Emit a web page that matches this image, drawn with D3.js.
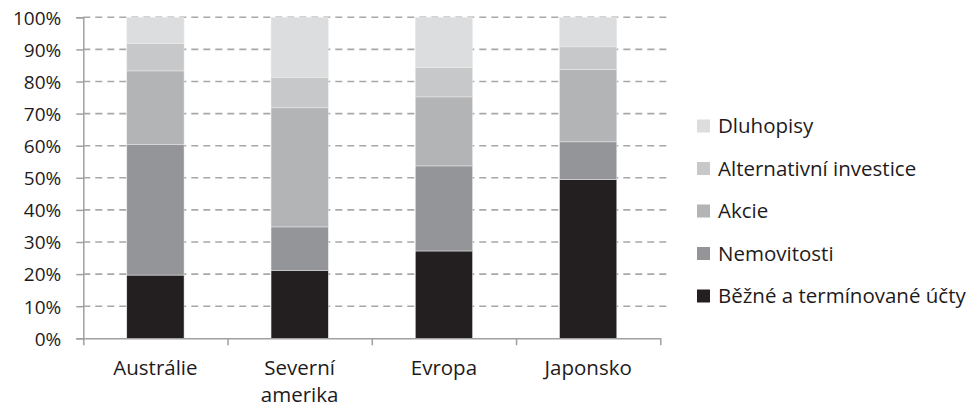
<!DOCTYPE html>
<html>
<head>
<meta charset="utf-8">
<script src="https://cdn.jsdelivr.net/npm/d3@7"></script>
<style>
  html, body { margin: 0; padding: 0; background: #fff; }
  svg { display: block; font-family: "Open Sans", sans-serif; }
</style>
</head>
<body>
<svg id="chart" width="971" height="407"></svg>
<script>
const categories = ["Austrálie", "Severní amerika", "Evropa", "Japonsko"];
const categoryLines = [["Austrálie"], ["Severní", "amerika"], ["Evropa"], ["Japonsko"]];
const seriesNames = ["Běžné a termínované účty", "Nemovitosti", "Akcie", "Alternativní investice", "Dluhopisy"];
const bezne = [19.7, 21.2, 27.2, 49.4];
const nemovitosti = [40.6, 13.5, 26.5, 11.8];
const akcie = [23.0, 37.1, 21.5, 22.5];
const alternativni = [8.5, 9.4, 9.2, 7.1];
const dluhopisy = [8.2, 18.8, 15.6, 9.2];
const yTicks = [0, 10, 20, 30, 40, 50, 60, 70, 80, 90, 100];
const colors = ["#231f20", "#939598", "#b3b4b6", "#c7c8ca", "#dcdddf"];

const seriesValues = [bezne, nemovitosti, akcie, alternativni, dluhopisy];
const table = categories.map((c, i) => {
  const row = { category: c };
  seriesNames.forEach((s, k) => { row[s] = seriesValues[k][i]; });
  return row;
});

const svg = d3.select("#chart");
const plotLeft = 83.3, plotRight = 660.3, plotTop = 17.3, plotBottom = 338.3;
const textColor = "#1e1b1c";

const x = d3.scaleBand().domain(categories).range([plotLeft, plotRight])
  .paddingInner(0.603).paddingOuter(0.3015);
const y = d3.scaleLinear().domain([0, 100]).range([plotBottom, plotTop]);
const color = d3.scaleOrdinal().domain(seriesNames).range(colors);

// gridlines
svg.append("g").selectAll("line").data(yTicks.filter(d => d > 0)).join("line")
  .attr("x1", plotLeft).attr("x2", 667)
  .attr("y1", d => y(d)).attr("y2", d => y(d))
  .attr("stroke", "#a7a8aa").attr("stroke-width", 1.6)
  .attr("stroke-dasharray", "7,5");

// bars
const stacked = d3.stack().keys(seriesNames)(table);
svg.append("g").selectAll("g").data(stacked).join("g")
  .attr("fill", d => color(d.key))
  .selectAll("rect").data(d => d).join("rect")
  .attr("x", d => x(d.data.category))
  .attr("width", x.bandwidth())
  .attr("y", d => y(d[1]))
  .attr("height", d => y(d[0]) - y(d[1]))
  .attr("stroke", "#ececec").attr("stroke-width", 0.5);

// y axis
const yAxis = svg.append("g").attr("transform", `translate(${plotLeft},0)`)
  .call(d3.axisLeft(y).tickValues(yTicks).tickFormat(d => d + "%").tickSize(7).tickPadding(15));
yAxis.select(".domain").attr("stroke", "#a0a0a0").attr("stroke-width", 1.5);
yAxis.selectAll(".tick line").attr("stroke", "#a0a0a0").attr("stroke-width", 1.5);
yAxis.selectAll(".tick text").attr("font-size", 19).attr("fill", textColor)
  .attr("font-family", "Open Sans, sans-serif").attr("dy", "0.36em");

// x axis (boundaries)
const step = x.step();
const boundaries = d3.range(categories.length + 1).map(i => plotLeft + i * step);
const xLin = d3.scaleLinear().domain([plotLeft, plotRight]).range([plotLeft, plotRight]);
const xAxis = svg.append("g").attr("transform", `translate(0,${plotBottom})`)
  .call(d3.axisBottom(xLin).tickValues(boundaries).tickFormat("").tickSize(7).tickSizeOuter(0));
xAxis.select(".domain").attr("stroke", "#a0a0a0").attr("stroke-width", 1.5);
xAxis.selectAll(".tick line").attr("stroke", "#a0a0a0").attr("stroke-width", 1.5);

// category labels
const labels = svg.append("g").selectAll("text").data(categories).join("text")
  .attr("x", d => x(d) + x.bandwidth() / 2)
  .attr("y", 374.5)
  .attr("text-anchor", "middle")
  .attr("font-size", 20.5).attr("fill", textColor);
labels.each(function(d, i) {
  d3.select(this).selectAll("tspan").data(categoryLines[i]).join("tspan")
    .attr("x", x(d) + x.bandwidth() / 2)
    .attr("dy", (t, j) => j === 0 ? 0 : 27.5)
    .text(t => t);
});

// legend
const legendOrder = seriesNames.slice().reverse();
const lg = svg.append("g").selectAll("g").data(legendOrder).join("g")
  .attr("transform", (d, i) => `translate(697,${133 + i * 42.5})`);
lg.append("rect").attr("x", 0).attr("y", -13.5).attr("width", 13).attr("height", 13)
  .attr("fill", d => color(d));
lg.append("text").attr("x", 21).attr("y", 0).attr("font-size", 20.5)
  .attr("fill", textColor).text(d => d);
</script>
</body>
</html>
